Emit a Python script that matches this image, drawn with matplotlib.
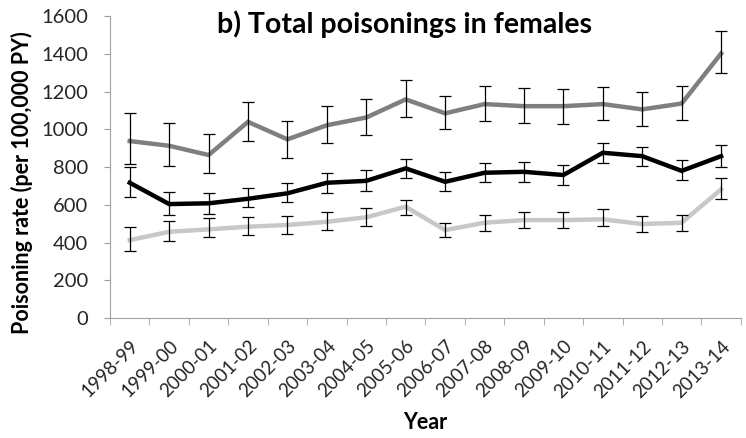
import matplotlib.pyplot as plt
import numpy as np

plt.rcParams.update({'font.family': ['Lato', 'DejaVu Sans'],
                     'font.size': 12})

years = ["1998-99", "1999-00", "2000-01", "2001-02", "2002-03", "2003-04",
         "2004-05", "2005-06", "2006-07", "2007-08", "2008-09", "2009-10",
         "2010-11", "2011-12", "2012-13", "2013-14"]

# dark grey series
grey_val = [938, 913, 864, 1040, 947, 1022, 1063, 1159, 1085, 1134, 1123, 1123, 1134, 1106, 1137, 1402]
grey_hi = [1086, 1035, 975, 1144, 1042, 1123, 1159, 1261, 1178, 1231, 1217, 1212, 1225, 1199, 1231, 1521]
grey_lo = [816, 807, 767, 936, 848, 927, 969, 1066, 1000, 1045, 1035, 1031, 1049, 1019, 1049, 1300]

# black series
black_val = [717, 604, 608, 632, 661, 717, 727, 793, 722, 770, 775, 758, 876, 858, 780, 858]
black_hi = [802, 669, 664, 690, 717, 770, 784, 844, 775, 823, 826, 812, 926, 908, 837, 918]
black_lo = [643, 546, 551, 586, 616, 661, 674, 740, 674, 722, 722, 705, 820, 807, 731, 802]

# light grey series
light_val = [413, 457, 470, 484, 493, 510, 534, 590, 466, 505, 519, 519, 523, 498, 505, 682]
light_hi = [481, 512, 528, 537, 542, 562, 581, 625, 505, 546, 560, 560, 576, 540, 546, 740]
light_lo = [357, 406, 428, 440, 447, 466, 487, 546, 428, 462, 475, 475, 487, 454, 462, 629]

fig = plt.figure(figsize=(7.46, 4.38), dpi=100)
ax = fig.add_axes([0.1475, 0.274, 0.8455, 0.689])

x = np.arange(len(years))
series = [(grey_val, grey_hi, grey_lo, '#7f7f7f'),
          (black_val, black_hi, black_lo, '#000000'),
          (light_val, light_hi, light_lo, '#c8c8c8')]
for val, hi, lo, col in series:
    val = np.array(val)
    err = [val - np.array(lo), np.array(hi) - val]
    ax.plot(x, val, color=col, linewidth=3.2, zorder=2, solid_joinstyle='miter')
    ax.errorbar(x, val, yerr=err, fmt='none', ecolor='black', elinewidth=0.9,
                capsize=4, capthick=0.9, zorder=3)

ax.set_xlim(-0.5, len(years) - 0.5)
ax.set_ylim(0, 1600)
ax.set_yticks(np.arange(0, 1601, 200))
ax.set_xticks(x)
ax.set_xticklabels(years, rotation=45, ha='right', rotation_mode='anchor',
                   fontsize=13.5, color='#262626')
ax.set_xticks(np.arange(-0.5, len(years), 1), minor=True)
ax.tick_params(axis='x', which='major', length=0, pad=14)
ax.tick_params(axis='x', which='minor', length=5, color='#a0a0a0')
ax.tick_params(axis='y', length=4, color='#a0a0a0', labelsize=14.5,
               labelcolor='#262626', pad=12)

for s in ['top', 'right']:
    ax.spines[s].set_visible(False)
for s in ['left', 'bottom']:
    ax.spines[s].set_color('#a0a0a0')

ax.set_ylabel("Poisoning rate (per 100,000 PY)", fontweight='bold', fontsize=15.5)
ax.yaxis.set_label_coords(-0.122, 0.45)
ax.set_xlabel("Year", fontweight='bold', fontsize=15.5, labelpad=8)
fig.text(0.542, 0.945, "b) Total poisonings in females", fontweight='bold',
         fontsize=20.5, ha='center', va='center')

fig.savefig("out.png", dpi=100)
